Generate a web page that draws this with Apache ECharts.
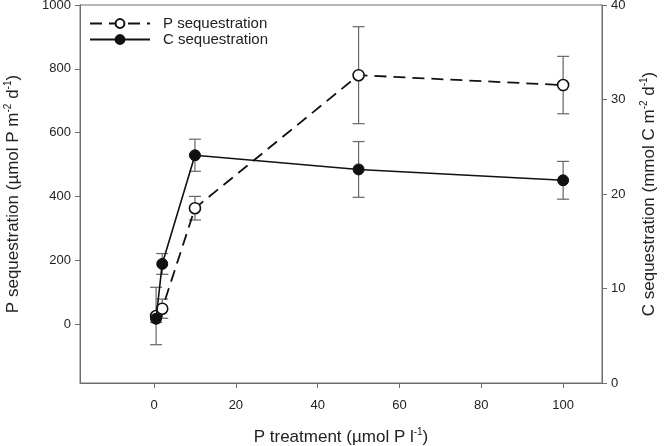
<!DOCTYPE html>
<html>
<head>
<meta charset="utf-8">
<script src="https://cdn.jsdelivr.net/npm/echarts@6/dist/echarts.min.js"></script>
<style>
html,body{margin:0;padding:0;background:#fff;}
#chart{width:666px;height:446px;}
</style>
</head>
<body>
<div id="chart"></div>
<script>
// Data
const xVals = [0.5, 2, 10, 50, 100];
const pVals = [25, 48, 363, 780, 749];
const pErr = [90, 30, 37, 152, 90];
const cVals = [6.8, 12.6, 24.1, 22.6, 21.45];
const cErr = [0.4, 1.1, 1.7, 2.95, 2.0];
const xTicks = [0, 20, 40, 60, 80, 100];
const leftTicks = [0, 200, 400, 600, 800, 1000];
const rightTicks = [0, 10, 20, 30, 40];

const FONT = 'Liberation Sans, Arial, sans-serif';
const AXIS_COLOR = '#6e6e6e';
const TEXT_COLOR = '#222';

const chart = echarts.init(document.getElementById('chart'));

function errorBar(color) {
  return function (params, api) {
    const x = api.value(0), y = api.value(1), e = api.value(2);
    const top = api.coord([x, y + e]);
    const bot = api.coord([x, y - e]);
    const hw = 6;
    const style = { stroke: color, lineWidth: 1.2 };
    return {
      type: 'group',
      children: [
        { type: 'line', shape: { x1: top[0], y1: top[1], x2: bot[0], y2: bot[1] }, style },
        { type: 'line', shape: { x1: top[0] - hw, y1: top[1], x2: top[0] + hw, y2: top[1] }, style },
        { type: 'line', shape: { x1: bot[0] - hw, y1: bot[1], x2: bot[0] + hw, y2: bot[1] }, style }
      ]
    };
  };
}

const supRich = {
  sup: { fontSize: 10, fontFamily: FONT, color: TEXT_COLOR, padding: [0, 0, 11, 0] }
};

const plain = v => String(v);

const option = {
  animation: false,
  backgroundColor: '#fff',
  textStyle: { fontFamily: FONT },
  grid: {
    left: 80, right: 64, top: 5, bottom: 63,
    outerBoundsMode: 'none', containLabel: false,
    show: true, borderColor: AXIS_COLOR, borderWidth: 1, backgroundColor: 'transparent'
  },
  legend: {
    orient: 'vertical',
    left: 84, top: 11,
    itemWidth: 60, itemHeight: 11, itemGap: 1,
    textStyle: { fontSize: 15, fontFamily: FONT, color: TEXT_COLOR, padding: [0, 0, 0, 8] },
    data: ['P sequestration', 'C sequestration']
  },
  xAxis: {
    type: 'value', min: -18.1, max: 109.5,
    name: 'P treatment (µmol P l{sup|-1})',
    nameLocation: 'middle', nameGap: 44,
    nameTextStyle: { fontSize: 17, fontFamily: FONT, color: TEXT_COLOR, rich: supRich },
    axisLine: { show: true, onZero: false, lineStyle: { color: AXIS_COLOR, width: 1 } },
    axisTick: { show: true, inside: false, length: 5, customValues: xTicks, lineStyle: { color: AXIS_COLOR } },
    axisLabel: { customValues: xTicks, formatter: plain, margin: 16, fontSize: 13, fontFamily: FONT, color: TEXT_COLOR },
    splitLine: { show: false }
  },
  yAxis: [
    {
      type: 'value', min: -185, max: 1000, position: 'left',
      name: 'P sequestration (µmol P m{sup|-2} d{sup|-1})',
      nameLocation: 'middle', nameGap: 56, nameRotate: 90,
      nameTextStyle: { fontSize: 17, fontFamily: FONT, color: TEXT_COLOR, rich: supRich },
      axisLine: { show: true, onZero: false, lineStyle: { color: AXIS_COLOR, width: 1 } },
      axisTick: { show: true, inside: false, length: 5, customValues: leftTicks, lineStyle: { color: AXIS_COLOR } },
      axisLabel: { customValues: leftTicks, formatter: plain, margin: 9, fontSize: 13, fontFamily: FONT, color: TEXT_COLOR },
      splitLine: { show: false }
    },
    {
      type: 'value', min: 0, max: 40, interval: 10, position: 'right',
      name: 'C sequestration (mmol C m{sup|-2} d{sup|-1})',
      nameLocation: 'middle', nameGap: 37, nameRotate: 90,
      nameTextStyle: { fontSize: 17, fontFamily: FONT, color: TEXT_COLOR, rich: supRich },
      axisLine: { show: true, onZero: false, lineStyle: { color: AXIS_COLOR, width: 1 } },
      axisTick: { show: true, inside: false, length: 5, lineStyle: { color: AXIS_COLOR } },
      axisLabel: { customValues: rightTicks, formatter: plain, margin: 9, fontSize: 13, fontFamily: FONT, color: TEXT_COLOR },
      splitLine: { show: false }
    }
  ],
  series: [
    {
      type: 'custom', name: 'P err', yAxisIndex: 0, z: 1,
      renderItem: errorBar('#666'),
      encode: { x: 0, y: 1 },
      data: xVals.map((x, i) => [x, pVals[i], pErr[i]]),
      silent: true
    },
    {
      type: 'custom', name: 'C err', yAxisIndex: 1, z: 1,
      renderItem: errorBar('#666'),
      encode: { x: 0, y: 1 },
      data: xVals.map((x, i) => [x, cVals[i], cErr[i]]),
      silent: true
    },
    {
      type: 'line', name: 'P sequestration', yAxisIndex: 0, z: 3,
      data: xVals.map((x, i) => [x, pVals[i]]),
      symbol: 'circle', symbolSize: 11,
      lineStyle: { color: '#111', width: 1.8, type: [12, 7] },
      itemStyle: { color: '#fff', borderColor: '#111', borderWidth: 1.6 }
    },
    {
      type: 'line', name: 'C sequestration', yAxisIndex: 1, z: 4,
      data: xVals.map((x, i) => [x, cVals[i]]),
      symbol: 'circle', symbolSize: 11,
      lineStyle: { color: '#111', width: 1.6, type: 'solid' },
      itemStyle: { color: '#111', borderColor: '#111', borderWidth: 1 }
    }
  ]
};

chart.setOption(option);
</script>
</body>
</html>
